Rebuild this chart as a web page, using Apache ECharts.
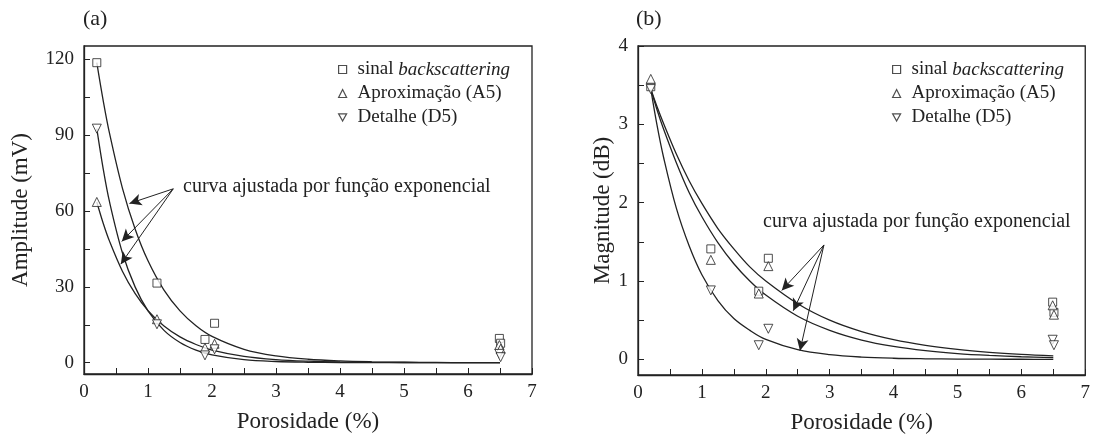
<!DOCTYPE html>
<html>
<head>
<meta charset="utf-8">
<script src="https://cdn.jsdelivr.net/npm/echarts/dist/echarts.min.js"></script>
<style>
  html, body { margin: 0; padding: 0; background: #fff; }
  #chart { width: 1093px; height: 443px; }
</style>
</head>
<body>
<div id="chart"></div>
<script>
// porosity of the samples (%), two samples sit at ~6.5
let porosity = [0.2, 1.14, 1.89, 2.04, 6.49, 6.51];

// (a) amplitude, mV
let ampBack = [118.7, 31.5, 9.2, 15.6, 9.6, 7.7];
let ampA5 = [63.6, 17.2, 5.9, 7.5, 7.0, 5.5];
let ampD5 = [92.6, 15.2, 2.9, 5.3, 3.5, 2.2];

// (b) magnitude, dB
let magBack = [3.48, 1.41, 0.87, 1.29, 0.73, 0.60];
let magA5 = [3.58, 1.27, 0.84, 1.19, 0.69, 0.57];
let magD5 = [3.45, 0.88, 0.18, 0.39, 0.25, 0.18];

// fitted exponential curves
let fitX = [0.2, 0.3, 0.4, 0.6, 0.8, 1.0, 1.25, 1.5, 1.75, 2.0, 2.5, 3.0, 3.5, 4.0, 4.5, 5.0, 5.5, 6.0, 6.5];
let fitAmpBack = [118.7, 103.7, 90.6, 69.1, 52.8, 40.3, 28.7, 20.5, 14.6, 10.4, 5.3, 2.7, 1.37, 0.70, 0.36, 0.18, 0.09, 0.05, 0.02];
let fitAmpA5 = [63.6, 55.2, 48.0, 36.2, 27.3, 20.6, 14.5, 10.2, 7.2, 5.0, 2.5, 1.23, 0.61, 0.30, 0.15, 0.07, 0.04, 0.02, 0.01];
let fitAmpD5 = [92.6, 76.7, 63.5, 43.5, 29.9, 20.5, 12.8, 8.0, 5.0, 3.1, 1.21, 0.47, 0.18, 0.07, 0.03, 0.01, 0, 0, 0];
let fitMagBack = [3.45, 3.22, 3.01, 2.62, 2.28, 1.99, 1.67, 1.41, 1.18, 1.00, 0.71, 0.50, 0.354, 0.251, 0.178, 0.126, 0.089, 0.063, 0.045];
let fitMagA5 = [3.45, 3.18, 2.94, 2.51, 2.13, 1.82, 1.49, 1.22, 1.00, 0.82, 0.55, 0.37, 0.246, 0.165, 0.111, 0.074, 0.050, 0.033, 0.022];
let fitMagD5 = [3.45, 2.98, 2.58, 1.93, 1.45, 1.08, 0.75, 0.52, 0.37, 0.254, 0.123, 0.060, 0.029, 0.014, 0.007, 0.003, 0.0015, 0.001, 0];

// tick labels
let xTicks = [0, 1, 2, 3, 4, 5, 6, 7];
let ampLabels = [0, 30, 60, 90, 120];
let ampTicks = [0, 15, 30, 45, 60, 75, 90, 105, 120];
let magLabels = [0, 1, 2, 3, 4];
let magTicks = [0, 0.5, 1, 1.5, 2, 2.5, 3, 3.5, 4];

let names = ['sinal backscattering', 'Aproximação (A5)', 'Detalhe (D5)'];
let fitNote = 'curva ajustada por função exponencial';

// arrows: [from, to] in data units
let ampArrows = [
  [[1.395, 68.8], [0.71, 63]],
  [[1.395, 68.8], [0.59, 48]],
  [[1.395, 68.8], [0.575, 39]]
];
let magArrows = [
  [[2.91, 1.46], [2.25, 0.88]],
  [[2.91, 1.46], [2.43, 0.62]],
  [[2.91, 1.46], [2.535, 0.11]]
];

let font = 'Liberation Serif';
let ink = '#222';

function pairs(xs, ys) {
  return xs.map((x, i) => [x, ys[i]]);
}

function xAxisFor(idx) {
  return {
    gridIndex: idx,
    type: 'value',
    min: 0,
    max: 7,
    interval: 1,
    name: 'Porosidade (%)',
    nameLocation: 'middle',
    nameGap: 36,
    nameTextStyle: { fontFamily: font, fontSize: 23, color: ink },
    axisLine: { show: true, onZero: false, lineStyle: { color: ink, width: 1.3 } },
    axisTick: { show: true, inside: true, length: 6, lineStyle: { color: ink } },
    minorTick: { show: true, splitNumber: 2, length: 6, lineStyle: { color: ink } },
    axisLabel: { fontFamily: font, fontSize: 19, color: ink, margin: 9, customValues: xTicks },
    splitLine: { show: false }
  };
}

function yAxisFor(idx, min, max, labels, ticks, title) {
  return {
    gridIndex: idx,
    type: 'value',
    min: min,
    max: max,
    name: title,
    nameLocation: 'middle',
    nameGap: idx === 0 ? 52 : 24,
    nameTextStyle: { fontFamily: font, fontSize: 23, color: ink },
    axisLine: { show: true, onZero: false, lineStyle: { color: ink, width: 1.3 } },
    axisTick: { show: true, inside: true, length: 6, customValues: ticks, lineStyle: { color: ink } },
    axisLabel: { fontFamily: font, fontSize: 19, color: ink, margin: 10, customValues: labels },
    splitLine: { show: false }
  };
}

let markStyle = { color: '#fff', borderColor: ink, borderWidth: 1 };

function pointSeries(idx, xs, ys, k) {
  let sym = k === 0 ? 'rect' : 'triangle';
  return {
    name: names[k],
    type: 'scatter',
    xAxisIndex: idx,
    yAxisIndex: idx,
    symbol: sym,
    symbolSize: k === 0 ? 8 : 9,
    symbolRotate: k === 2 ? 180 : 0,
    itemStyle: markStyle,
    z: 5,
    data: pairs(xs, ys)
  };
}

function curveSeries(idx, ys, arrows) {
  let s = {
    type: 'line',
    xAxisIndex: idx,
    yAxisIndex: idx,
    showSymbol: false,
    smooth: 0.35,
    silent: true,
    lineStyle: { color: ink, width: 1.3 },
    data: pairs(fitX, ys)
  };
  if (arrows) {
    s.markLine = {
      silent: true,
      symbol: ['none', 'arrow'],
      symbolSize: [9, 12],
      label: { show: false },
      lineStyle: { color: ink, width: 1, type: 'solid' },
      data: arrows.map(a => [{ coord: a[0] }, { coord: a[1] }])
    };
  }
  return s;
}

let legendIcons = ['rect', 'triangle', 'path://M0,0 L10,0 L5,9 Z'];

function legendFor(left) {
  return {
    data: names.map((n, i) => ({
      name: n,
      icon: legendIcons[i],
      itemStyle: { color: '#fff', borderColor: ink, borderWidth: 1.2 }
    })),
    orient: 'vertical',
    left: left,
    top: 55,
    itemWidth: 8,
    itemHeight: 8,
    itemGap: 5,
    selectedMode: false,
    textStyle: {
      fontFamily: font, fontSize: 19, color: ink, padding: [0, 0, 0, 6],
      rich: { i: { fontFamily: font, fontSize: 19, fontStyle: 'italic', color: ink } }
    },
    formatter: n => n === names[0] ? 'sinal {i|backscattering}' : n
  };
}

let myChart = echarts.init(document.getElementById('chart'));

let option = {
  animation: false,
  backgroundColor: '#fff',
  grid: [
    { left: 84, right: 561, top: 46, bottom: 69, show: true, borderColor: ink, borderWidth: 1.3 },
    { left: 638, right: 7, top: 46, bottom: 68, show: true, borderColor: ink, borderWidth: 1.3 }
  ],
  xAxis: [xAxisFor(0), xAxisFor(1)],
  yAxis: [
    yAxisFor(0, -4.47, 125.3, ampLabels, ampTicks, 'Amplitude (mV)'),
    yAxisFor(1, -0.2, 4, magLabels, magTicks, 'Magnitude (dB)')
  ],
  legend: [legendFor(333), legendFor(887)],
  graphic: [
    { type: 'text', left: 83, top: 8, style: { text: '(a)', font: '22px "Liberation Serif"', fill: ink } },
    { type: 'text', left: 636, top: 8, style: { text: '(b)', font: '22px "Liberation Serif"', fill: ink } },
    { type: 'text', left: 183, top: 177, style: { text: fitNote, font: '20px "Liberation Serif"', fill: ink } },
    { type: 'text', left: 763, top: 212, style: { text: fitNote, font: '20px "Liberation Serif"', fill: ink } }
  ],
  series: [
    curveSeries(0, fitAmpBack, ampArrows),
    curveSeries(0, fitAmpA5),
    curveSeries(0, fitAmpD5),
    pointSeries(0, porosity, ampBack, 0),
    pointSeries(0, porosity, ampA5, 1),
    pointSeries(0, porosity, ampD5, 2),
    curveSeries(1, fitMagBack, magArrows),
    curveSeries(1, fitMagA5),
    curveSeries(1, fitMagD5),
    pointSeries(1, porosity, magBack, 0),
    pointSeries(1, porosity, magA5, 1),
    pointSeries(1, porosity, magD5, 2)
  ]
};

myChart.setOption(option);
</script>
</body>
</html>
